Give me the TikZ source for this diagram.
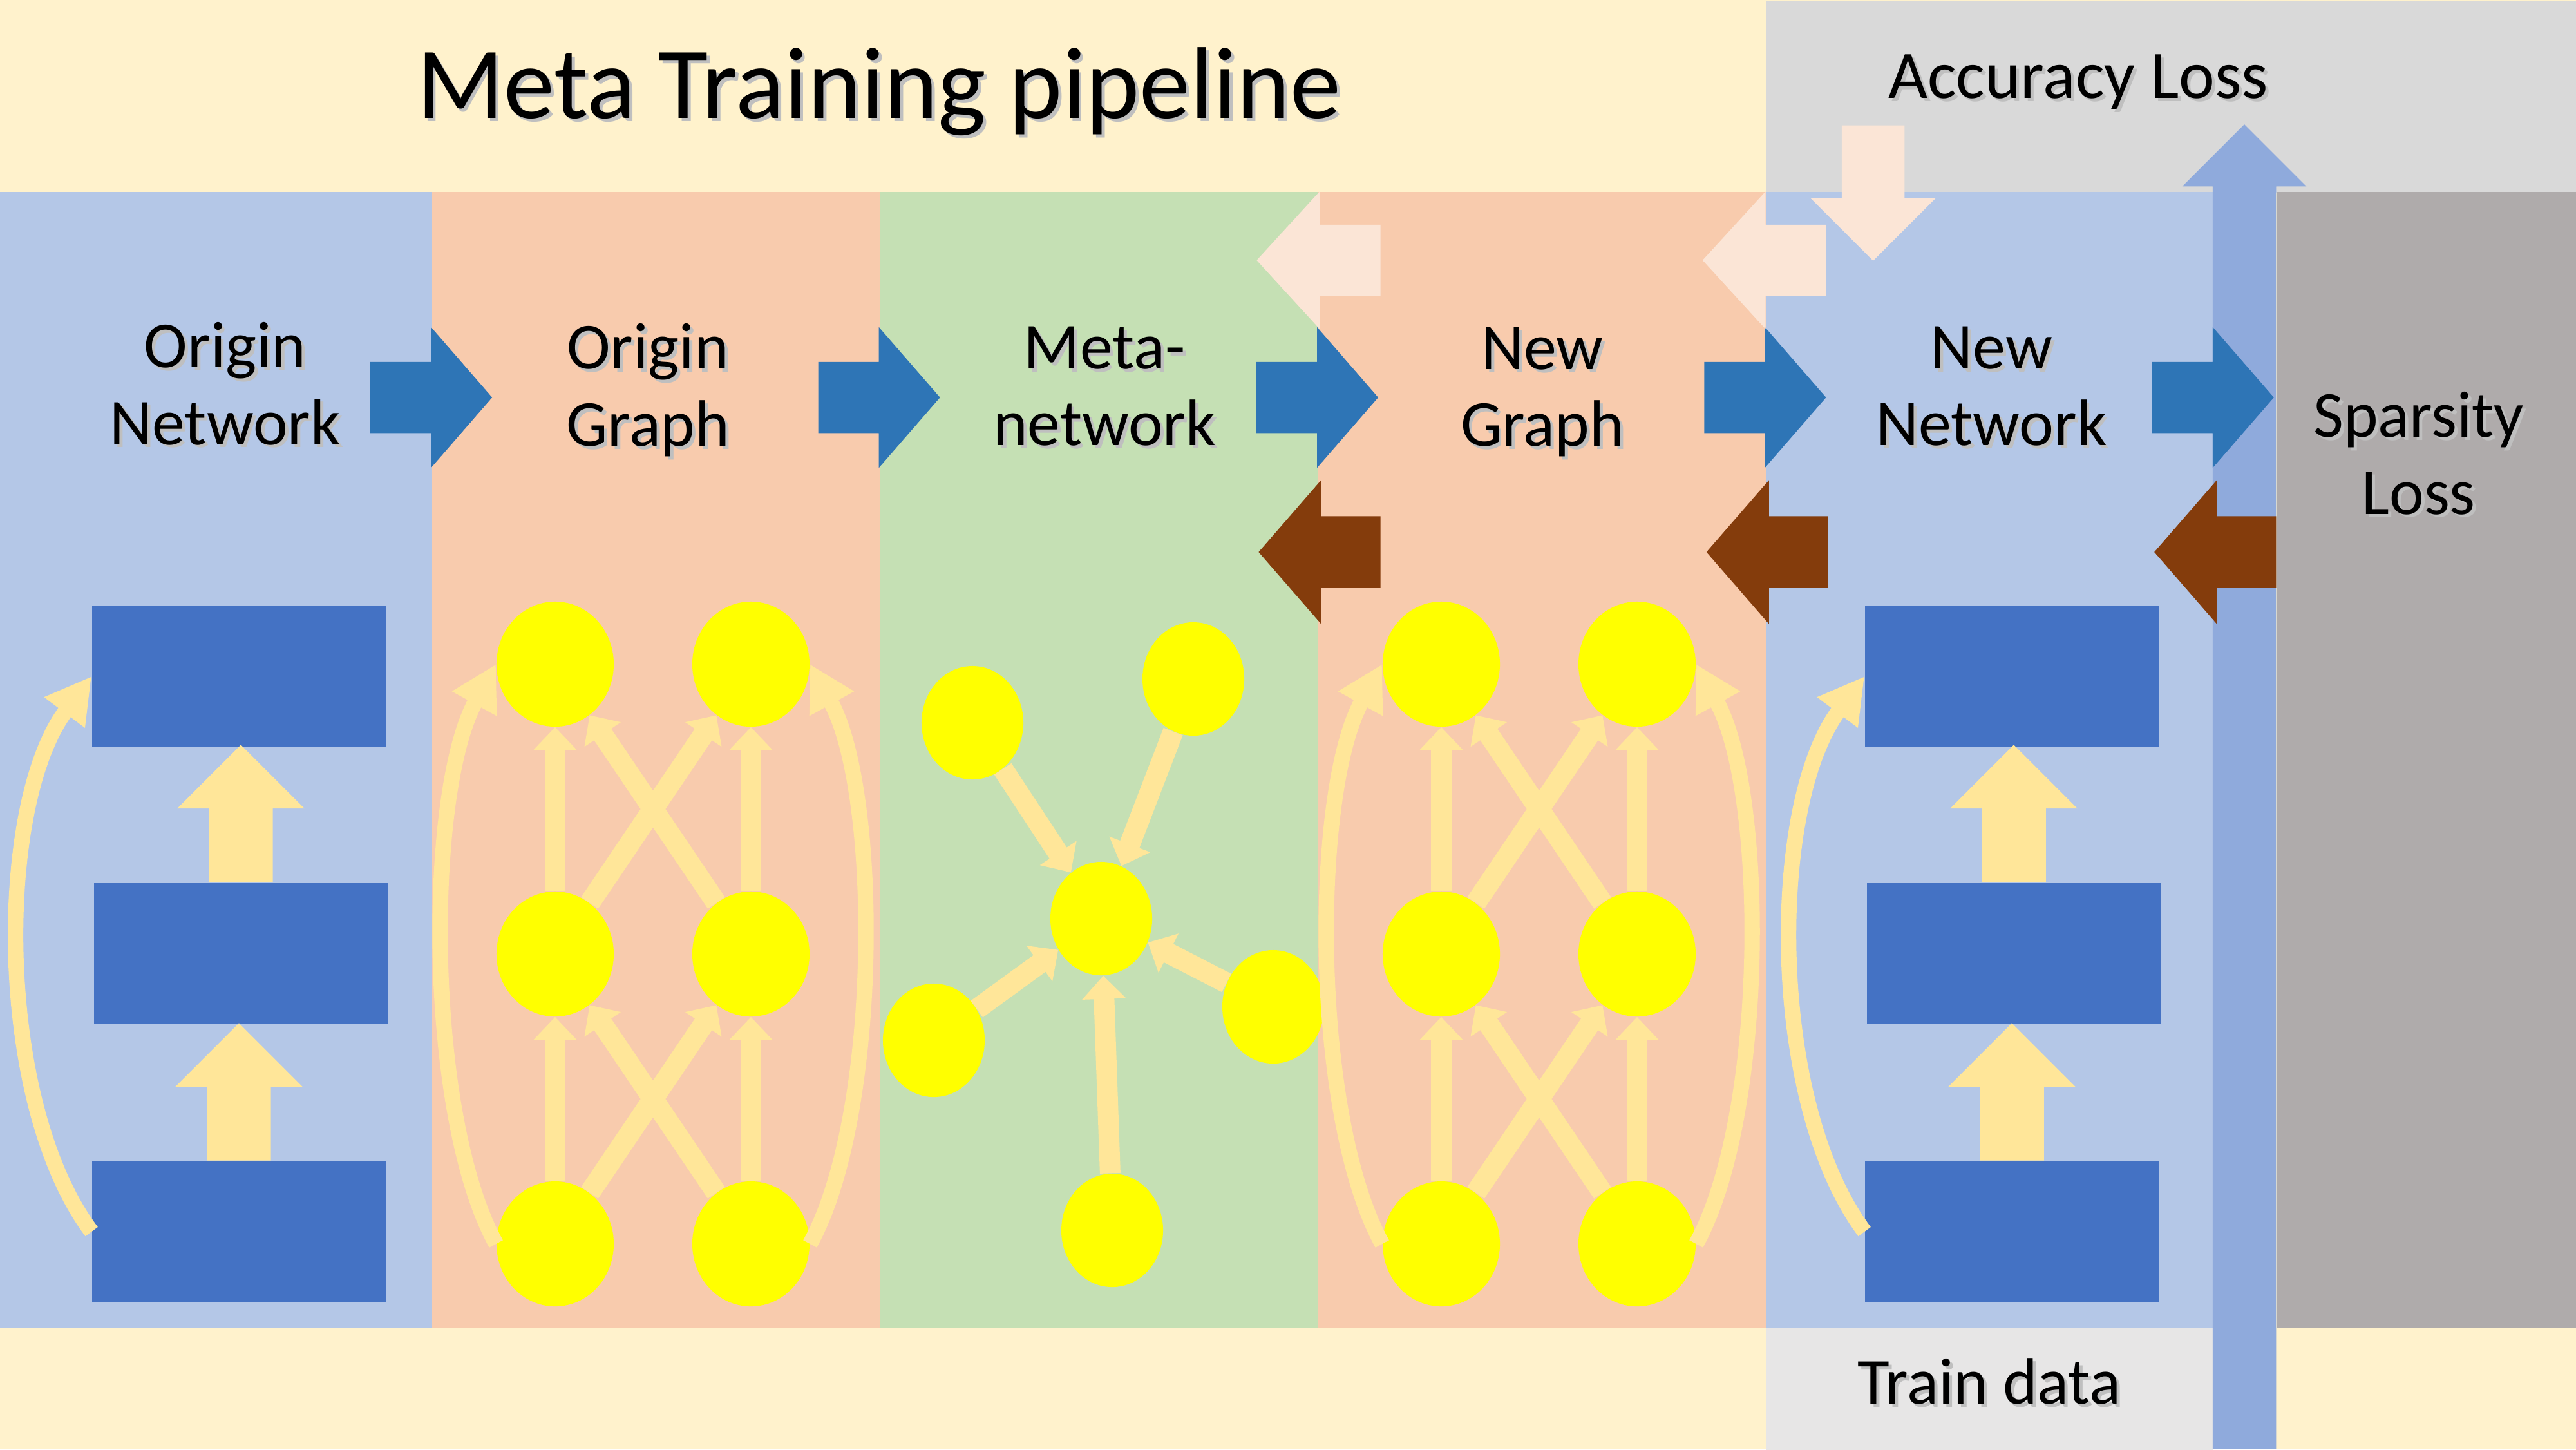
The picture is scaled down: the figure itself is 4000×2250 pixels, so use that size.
\documentclass[tikz,border=0pt]{standalone}
\usepackage{fontspec}
\setmainfont{Carlito}
\usetikzlibrary{positioning, calc, shapes.geometric, shapes.arrows, arrows.meta}

\definecolor{cream}{HTML}{FFF2CC}
\definecolor{netblue}{HTML}{B4C7E7}
\definecolor{peach}{HTML}{F8CBAD}
\definecolor{metagreen}{HTML}{C5E0B4}
\definecolor{lossgray}{HTML}{AFABAB}
\definecolor{accgray}{HTML}{D9D9D9}
\definecolor{datagray}{HTML}{E7E6E6}
\definecolor{layerblue}{HTML}{4472C4}
\definecolor{flowblue}{HTML}{2E75B6}
\definecolor{backbrown}{HTML}{843C0C}
\definecolor{palepeach}{HTML}{FBE5D6}
\definecolor{linkyellow}{HTML}{FFE699}
\definecolor{barblue}{HTML}{8FAADC}
\definecolor{unityellow}{HTML}{FFFF00}
\definecolor{shadowgray}{HTML}{BFBFBF}

\newcommand{\shtxt}[1]{\makebox[0pt][l]{\kern1.4pt\raisebox{-1.4pt}{\textcolor{shadowgray}{#1}}}#1}

\begin{document}
\begin{tikzpicture}[x=0.01cm, y=-0.01cm, node distance=0pt,
panel/.style= {rectangle, inner sep=0, outer sep=0, minimum height=17.63cm, anchor=north west},
layer/.style= {rectangle, fill=layerblue, inner sep=0, minimum width=4.56cm, minimum height=2.18cm},
unit/.style= {ellipse, fill=unityellow, inner sep=0, minimum width=1.82cm, minimum height=1.94cm},
metaunit/.style= {ellipse, fill=unityellow, inner sep=0, minimum width=1.58cm, minimum height=1.76cm},
link/.style= {draw=linkyellow, line width=0.32cm, -{Triangle[width=0.66cm, length=0.36cm]}},
skiplink/.style= {draw=linkyellow, line width=0.24cm, -{Triangle[width=0.74cm, length=0.7cm]}},
uparrow/.style= {single arrow, rotate=90, anchor=tail, fill=linkyellow, inner xsep=0, inner ysep=0.49cm, minimum height=2.13cm, single arrow head extend=0.49cm},
fwd/.style= {single arrow, anchor=tail, fill=flowblue, inner xsep=0, inner ysep=0.545cm, minimum height=1.89cm, single arrow head extend=0.54cm, single arrow tip angle=98},
bwd/.style= {single arrow, rotate=180, anchor=tail, fill=backbrown, inner xsep=0, inner ysep=0.55cm, minimum height=1.89cm, single arrow head extend=0.56cm, single arrow tip angle=98},
grad/.style= {single arrow, rotate=180, anchor=tail, fill=palepeach, inner xsep=0, inner ysep=0.545cm, minimum height=1.92cm, single arrow head extend=0.515cm, single arrow tip angle=95},
paneltext/.style= {align=center, inner sep=0, font=\fontsize{29}{34}\selectfont} ]
\useasboundingbox (0,0) rectangle (4000,2250);
\fill[cream] (0,0) rectangle (4000,2250);
\node (acc) [rectangle, fill=accgray, inner sep=0, minimum width=12.59cm, minimum height=2.98cm, anchor=north west] at (2741,0) {};
\node (data) [rectangle, fill=datagray, inner sep=0, minimum width=6.95cm, minimum height=1.89cm, anchor=north west] at (2741,2061) {};

% columns
\node (onet) [panel, fill=netblue, minimum width=6.71cm] at (0,298) {};
\node (ograph) [panel, fill=peach, minimum width=6.95cm, right=of onet] {};
\node (meta) [panel, fill=metagreen, minimum width=6.80cm, right=of ograph] {};
\node (ngraph) [panel, fill=peach, minimum width=6.95cm, right=of meta] {};
\node (nnet) [panel, fill=netblue, minimum width=6.95cm, right=of ngraph] {};
\node (sparse) [panel, fill=lossgray, minimum width=4.67cm, right=0.97cm of nnet] {};
\node (bar) [single arrow, rotate=90, anchor=tail, fill=barblue, inner xsep=0, inner ysep=0.485cm, minimum height=20.55cm, single arrow head extend=0.47cm] at (3485,2250) {};

% origin network
\node (or1) [layer] at (371,1050) {};
\node (or2) [layer] at (374,1480) {};
\node (or3) [layer] at (371,1912) {};
\node (oup1) [uparrow] at (or3.north) {};
\node (oup2) [uparrow] at (or2.north) {};
\draw[skiplink] (or3.west) .. controls +(-150,-200) and +(-150,200) .. (or1.west);

% origin graph
\node (oa1) [unit] at (862,1031) {};
\node (oa2) [unit] at (1166,1031) {};
\node (ob1) [unit] at (862,1481) {};
\node (ob2) [unit] at (1166,1481) {};
\node (oc1) [unit] at (862,1931) {};
\node (oc2) [unit] at (1166,1931) {};
\draw[link] (oc1) -- (ob1);
\draw[link] (oc1) -- (ob2);
\draw[link] (oc2) -- (ob1);
\draw[link] (oc2) -- (ob2);
\draw[link] (ob1) -- (oa1);
\draw[link] (ob1) -- (oa2);
\draw[link] (ob2) -- (oa1);
\draw[link] (ob2) -- (oa2);
\draw[skiplink] (oc1.west) .. controls +(-110,-200) and +(-110,200) .. (oa1.west);
\draw[skiplink] (oc2.east) .. controls +(110,-200) and +(110,200) .. (oa2.east);

% meta-network
\node (mc) [metaunit] at (1710,1426) {};
\node (m1) [metaunit] at (1510,1122) {};
\node (m2) [metaunit] at (1853,1054) {};
\node (m3) [metaunit] at (1450,1615) {};
\node (m4) [metaunit] at (1977,1563) {};
\node (m5) [metaunit] at (1727,1910) {};
\draw[link] (m1) -- (mc);
\draw[link] (m2) -- (mc);
\draw[link] (m3) -- (mc);
\draw[link] (m4) -- (mc);
\draw[link] (m5) -- (mc);

% new graph
\node (na1) [unit] at (2238,1031) {};
\node (na2) [unit] at (2542,1031) {};
\node (nb1) [unit] at (2238,1481) {};
\node (nb2) [unit] at (2542,1481) {};
\node (nc1) [unit] at (2238,1931) {};
\node (nc2) [unit] at (2542,1931) {};
\draw[link] (nc1) -- (nb1);
\draw[link] (nc1) -- (nb2);
\draw[link] (nc2) -- (nb1);
\draw[link] (nc2) -- (nb2);
\draw[link] (nb1) -- (na1);
\draw[link] (nb1) -- (na2);
\draw[link] (nb2) -- (na1);
\draw[link] (nb2) -- (na2);
\draw[skiplink] (nc1.west) .. controls +(-110,-200) and +(-110,200) .. (na1.west);
\draw[skiplink] (nc2.east) .. controls +(110,-200) and +(110,200) .. (na2.east);

% new network
\node (nr1) [layer] at (3124,1050) {};
\node (nr2) [layer] at (3127,1480) {};
\node (nr3) [layer] at (3124,1912) {};
\node (nup1) [uparrow] at (nr3.north) {};
\node (nup2) [uparrow] at (nr2.north) {};
\draw[skiplink] (nr3.west) .. controls +(-150,-200) and +(-150,200) .. (nr1.west);

% flow between columns
\node (f1) [fwd] at ($(onet.north east)+(-97,319)$) {};
\node (f2) [fwd] at ($(ograph.north east)+(-97,319)$) {};
\node (f3) [fwd] at ($(meta.north east)+(-97,319)$) {};
\node (f4) [fwd] at ($(ngraph.north east)+(-97,319)$) {};
\node (f5) [fwd] at ($(nnet.north east)+(-97,319)$) {};
\node (b1) [bwd] at ($(meta.north east)+(97,559)$) {};
\node (b2) [bwd] at ($(ngraph.north east)+(97,559)$) {};
\node (b3) [bwd] at ($(nnet.north east)+(97,559)$) {};
\node (g1) [grad] at ($(meta.north east)+(97,106)$) {};
\node (g2) [grad] at ($(ngraph.north east)+(94,106)$) {};
\node (g3) [single arrow, rotate=-90, anchor=tail, fill=palepeach, inner xsep=0, inner ysep=0.48cm, minimum height=2.1cm, single arrow head extend=0.48cm] at ($(nnet.north west)+(166,-104)$) {};

% texts
\node (title) [inner sep=0, font=\fontsize{45}{50}\selectfont] at (1365,145) {\shtxt{Meta Training pipeline}};
\node (acctext) [paneltext, font=\fontsize{30}{34}\selectfont] at (3227,130) {\shtxt{Accuracy Loss}};
\node (datatext) [paneltext] at (3089,2147) {\shtxt{Train data}};
\node (t1) [paneltext] at ($(onet.north)+(14,300)$) {\shtxt{Origin}\\\shtxt{Network}};
\node (t2) [paneltext] at ($(ograph.north)+(-13,310)$) {\shtxt{Origin}\\\shtxt{Graph}};
\node (t3) [paneltext] at ($(meta.north)+(8,304)$) {\shtxt{Meta-}\\\shtxt{network}};
\node (t4) [paneltext] at ($(ngraph.north)+(0,313)$) {\shtxt{New}\\\shtxt{Graph}};
\node (t5) [paneltext] at ($(nnet.north)+(2,304)$) {\shtxt{New}\\\shtxt{Network}};
\node (t6) [paneltext] at ($(sparse.north)+(-13,408)$) {\shtxt{Sparsity}\\\shtxt{Loss}};
\end{tikzpicture}
\end{document}
